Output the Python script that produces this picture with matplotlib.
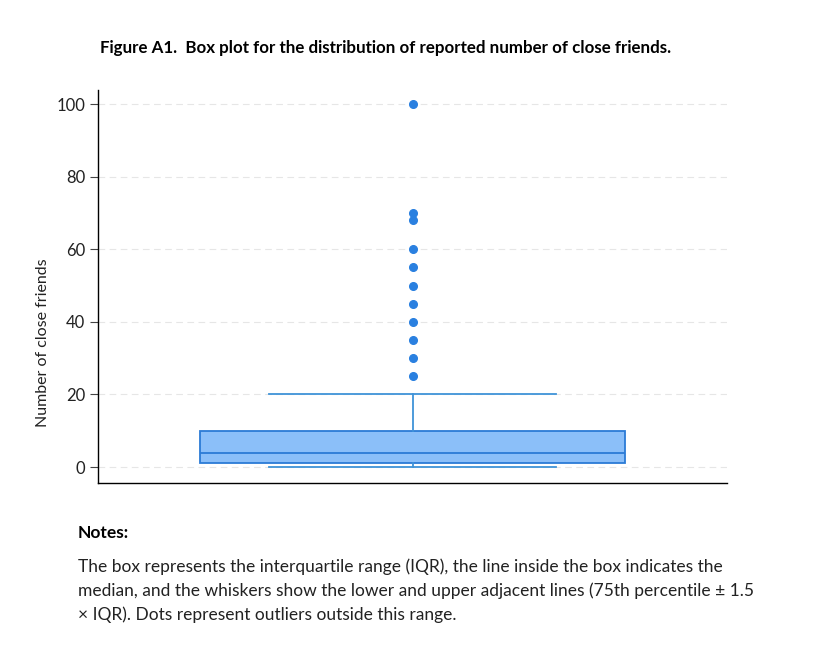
import matplotlib.pyplot as plt
import numpy as np

# box statistics
q1 = 1
median = 4
q3 = 10
whisker_low = 0
whisker_high = 20
outliers = [100, 70, 68, 60, 55, 50, 45, 40, 35, 30, 25]
y_ticks = [0, 20, 40, 60, 80, 100]

title = 'Figure A1.  Box plot for the distribution of reported number of close friends.'
notes_head = 'Notes:'
notes_lines = [
    'The box represents the interquartile range (IQR), the line inside the box indicates the',
    'median, and the whiskers show the lower and upper adjacent lines (75th percentile \u00b1 1.5',
    '\u00d7 IQR). Dots represent outliers outside this range.',
]

plt.rcParams['font.family'] = ['Lato', 'DejaVu Sans']

fig = plt.figure(figsize=(8.26, 6.49), dpi=100)
W, H = 826, 649
ax = fig.add_axes([98 / W, 1 - 483 / H, (727 - 98) / W, (483 - 90) / H])

stats = [dict(med=median, q1=q1, q3=q3, whislo=whisker_low, whishi=whisker_high,
              fliers=outliers)]
edge = '#2b7bd6'
ax.bxp(stats, positions=[0], widths=0.675, patch_artist=True, showfliers=True,
       boxprops=dict(facecolor='#8bbff9', edgecolor=edge, linewidth=1.3),
       medianprops=dict(color=edge, linewidth=1.3),
       whiskerprops=dict(color='#3f93d8', linewidth=1.3),
       capprops=dict(color='#3f93d8', linewidth=1.3),
       capwidths=0.455,
       flierprops=dict(marker='o', markerfacecolor='#2a80e0', markeredgecolor='#2a80e0',
                       markersize=5.5))

ax.set_xlim(-0.5, 0.5)
ax.set_ylim(-4.4, 103.9)
ax.set_yticks(y_ticks)
ax.set_xticks([])
ax.yaxis.grid(True, linestyle=(0, (6, 4)), color='#e6e6e6', linewidth=0.8)
ax.set_axisbelow(True)
for s in ('top', 'right'):
    ax.spines[s].set_visible(False)
ax.spines['left'].set_linewidth(1.0)
ax.spines['bottom'].set_linewidth(1.0)
ax.tick_params(axis='y', labelsize=12, length=6, pad=3, color='#444444', labelcolor='#222222')
ax.set_ylabel('Number of close friends', fontsize=11.5, color='#222222')
ax.yaxis.set_label_coords(-0.076, 0.356)

fig.text(100 / W, 1 - 48 / H, title, fontsize=12.2, fontweight='bold', va='center', ha='left')
fig.text(78 / W, 1 - 533 / H, notes_head, fontsize=12.5, fontweight='bold', va='center', ha='left')
for i, line in enumerate(notes_lines):
    fig.text(78 / W, 1 - (567 + 24 * i) / H, line, fontsize=12.5, va='center', ha='left',
             color='#222222')

fig.savefig('out.png', dpi=100)
